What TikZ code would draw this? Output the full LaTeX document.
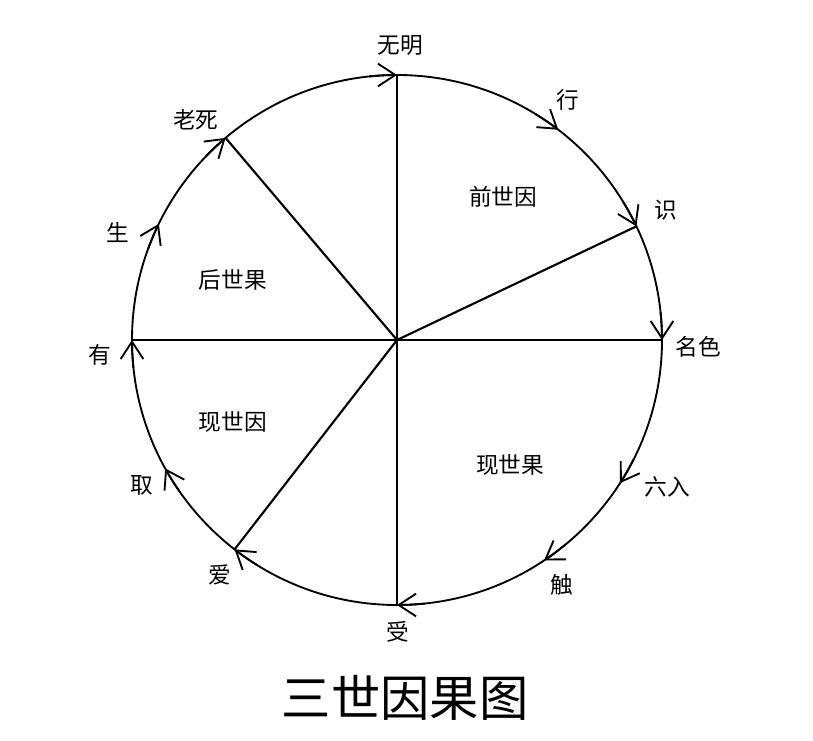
\documentclass[tikz,border=0pt]{standalone}
\usepackage{fontspec}
\newfontfamily\cjk{Noto Sans CJK SC}
\usetikzlibrary{arrows.meta}
\tikzset{
  rim/.style={line width=1.4pt},
  spoke/.style={line width=1.6pt},
  flow/.style={line width=1.4pt, -{Straight Barb[length=13pt,width=17pt,line width=1.4pt]}},
  stage/.style={font=\cjk\fontsize{17}{17}\selectfont, inner sep=0pt},
  era/.style={font=\cjk\fontsize{17}{17}\selectfont, inner sep=0pt},
  heading/.style={font=\cjk\fontsize{37}{37}\selectfont, inner sep=0pt},
}
\begin{document}
\begin{tikzpicture}[x=0.75pt,y=0.75pt]
  \useasboundingbox (-397,-401) rectangle (416,340);
  \coordinate (o) at (0,0);
  \draw[rim] (o) circle (265);
  % twelve links on the rim, clockwise from the top
  \foreach \n/\a in {wuming/90, xing/52.5, shi/25.4, mingse/0, liuru/-32.7, chu/-56.3,
                     shou/-90, ai/-127.8, qu/-151, you/180, sheng/154, laosi/130.3}
    \coordinate (\n) at (\a:265);
  \foreach \a in {90, 52.5, 25.4, 0, -32.7, -56.3, -90, -127.8, -151, 180, 154, 130.3}
    \draw[flow] (\a+6:265) arc[start angle=\a+6, end angle=\a, radius=265];
  \foreach \n in {wuming, shi, mingse, shou, ai, you, laosi}
    \draw[spoke] (o) -- (\n);

  \node[stage] (l1) at (3,295) {无明};
  \node[stage] (l2) at (171,240) {行};
  \node[stage] (l3) at (269,130) {识};
  \node[stage] (l4) at (301,-7) {名色};
  \node[stage] (l5) at (270,-147) {六入};
  \node[stage] (l6) at (165,-245) {触};
  \node[stage] (l7) at (1,-292) {受};
  \node[stage] (l8) at (-177,-235) {爱};
  \node[stage] (l9) at (-255,-145) {取};
  \node[stage] (l10) at (-297,-15) {有};
  \node[stage] (l11) at (-279,107) {生};
  \node[stage] (l12) at (-201,220) {老死};

  \node[era] (past) at (106,143) {前世因};
  \node[era] (nowfruit) at (113,-125) {现世果};
  \node[era] (nowcause) at (-164,-82) {现世因};
  \node[era] (next) at (-164,60) {后世果};

  \node[heading] (title) at (8,-358) {三世因果图};
\end{tikzpicture}
\end{document}
